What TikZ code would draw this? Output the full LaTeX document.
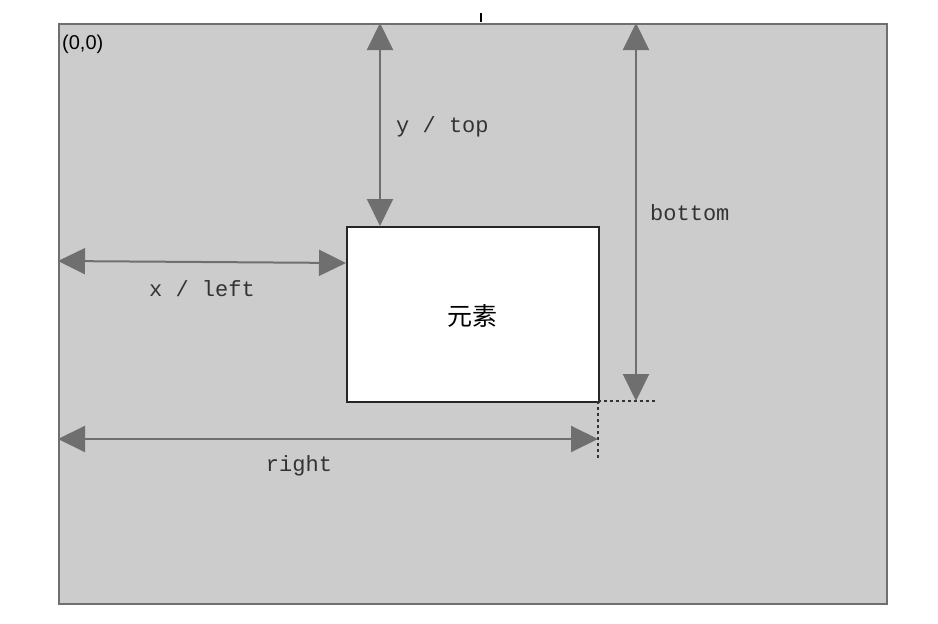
\documentclass[tikz,border=0pt]{standalone}
\usepackage{fontspec}
\setmainfont{Liberation Sans}
\newfontfamily\monof{Liberation Mono}
\newfontfamily\cjkf{Noto Sans CJK SC}
\usetikzlibrary{arrows.meta}
\definecolor{bggray}{HTML}{CCCCCC}
\definecolor{linegray}{HTML}{6F6F6F}
\tikzset{
  dim/.style={draw=linegray, line width=2pt, {Triangle[length=27pt,width=26pt]}-{Triangle[length=27pt,width=26pt]}},
  dimlabel/.style={font=\monof\fontsize{22}{24}\selectfont, text=black!80, inner sep=0pt},
  guide/.style={draw=black!80, line width=1.6pt, dash pattern=on 3pt off 3pt},
}
\begin{document}
\begin{tikzpicture}[x=1pt,y=-1pt]
\useasboundingbox (0,0) rectangle (938,624);
\fill[white] (0,0) rectangle (938,624);
% outer container
\node[draw=linegray, fill=bggray, line width=2pt, minimum width=828pt, minimum height=580pt, inner sep=0pt, anchor=north west] (page) at (58,23) {};
% top tick
\draw[black, line width=2pt] (481,13) -- (481,22);
% origin label
\node[anchor=north west, inner sep=0pt, font=\fontsize{20}{22}\selectfont] (origin) at (62,35) {(0,0)};
% element
\node[draw=black!85, fill=white, line width=1.6pt, minimum width=252pt, minimum height=175pt, inner sep=0pt, anchor=north west] (el) at (346,226) {};
\node[font=\cjkf\fontsize{25}{27}\selectfont] (eltext) at (472,316) {元素};
% coordinates
\coordinate (corner) at (598,401);
\coordinate (topA) at (380,23);
\coordinate (topB) at (380,226);
\coordinate (botA) at (636,23);
\coordinate (botB) at (636,401);
\coordinate (leftA) at (58,261);
\coordinate (leftB) at (346,263);
\coordinate (rightA) at (58,439);
\coordinate (rightB) at (598,439);
\coordinate (hg) at (656,401);
\coordinate (vg) at (598,459);
% guides
\draw[guide] (corner) -- (hg);
\draw[guide] (corner) -- (vg);
% dimension arrows
\draw[dim] (topA) -- (topB);
\draw[dim] (botA) -- (botB);
\draw[dim] (leftA) -- (leftB);
\draw[dim] (rightA) -- (rightB);
% labels
\node[dimlabel, anchor=west] (ltop) at (396,127) {y / top};
\node[dimlabel, anchor=west] (lbot) at (650,213) {bottom};
\node[dimlabel] (lleft) at (202,289) {x / left};
\node[dimlabel] (lright) at (299,466) {right};
\end{tikzpicture}
\end{document}
